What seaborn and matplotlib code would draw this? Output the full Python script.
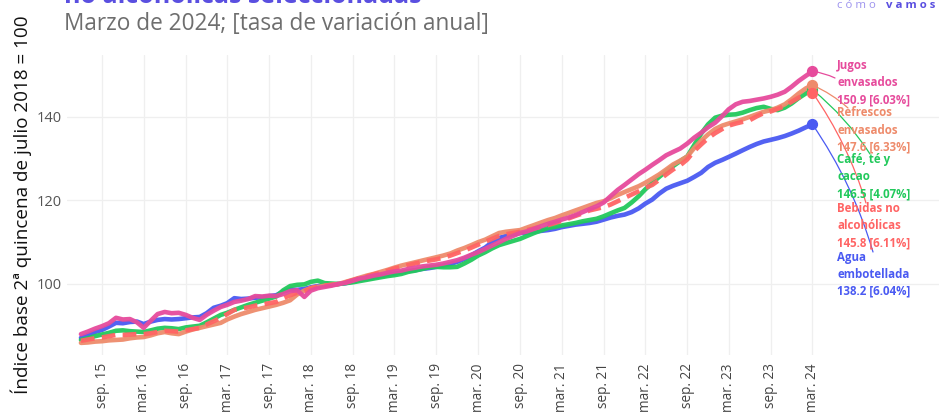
import numpy as np
import pandas as pd
import matplotlib
matplotlib.use("Agg")
import matplotlib.pyplot as plt
import matplotlib.dates as mdates
import seaborn as sns

# monthly index values, jun 2015 .. mar 2024 (base 2a quincena jul 2018 = 100)
dates = pd.date_range("2015-06-01", "2024-03-01", freq="MS")

jugos = [
    88.0, 88.6, 89.3, 89.9, 90.6, 91.9, 91.5, 91.6, 90.8, 89.5,
    91.2, 92.8, 93.3, 93.0, 93.1, 92.6, 91.9, 91.4, 92.6, 93.6,
    94.5, 95.0, 95.7, 96.0, 96.4, 97.1, 97.0, 97.2, 97.1, 97.6,
    98.3, 98.5, 96.9, 98.4, 99.0, 99.3, 99.6, 100.0, 100.3, 100.8,
    101.3, 101.6, 102.0, 102.3, 102.7, 103.0, 103.2, 103.6, 103.9, 104.2,
    104.4, 104.6, 104.9, 105.3, 105.7, 106.3, 107.0, 107.6, 108.4, 109.2,
    110.0, 110.8, 111.5, 112.2, 112.6, 113.2, 113.8, 114.4, 114.9, 115.4,
    115.9, 116.5, 117.2, 117.9, 118.6, 119.5, 121.0, 122.5, 123.7, 125.0,
    126.3, 127.3, 128.5, 129.6, 130.8, 131.6, 132.4, 133.6, 135.0, 136.2,
    137.5, 138.6, 140.2, 141.8, 143.0, 143.6, 143.8, 144.1, 144.4, 144.8,
    145.3, 146.0, 147.2, 148.6, 149.8, 150.9,
]
agua = [
    87.1, 87.8, 88.5, 89.0, 89.8, 90.7, 90.6, 90.9, 91.0, 90.4,
    91.0, 91.4, 91.6, 91.5, 91.6, 91.8, 92.0, 92.1, 93.0, 94.3,
    94.8, 95.4, 96.6, 96.4, 96.5, 96.7, 96.8, 97.1, 97.3, 98.2,
    98.7, 98.6, 98.8, 99.2, 99.5, 99.7, 99.8, 100.0, 100.2, 100.6,
    101.0, 101.3, 101.6, 101.9, 102.2, 102.5, 102.8, 103.1, 103.3, 103.6,
    103.8, 104.1, 104.4, 104.8, 105.3, 106.0, 106.9, 107.8, 108.7, 110.0,
    111.0, 111.5, 111.9, 112.2, 112.3, 112.5, 112.7, 112.9, 113.2, 113.6,
    113.9, 114.2, 114.4, 114.6, 114.9, 115.4, 115.9, 116.3, 116.6, 117.2,
    118.1, 119.2, 120.2, 121.6, 122.8, 123.5, 124.1, 124.7, 125.6, 126.6,
    128.0, 129.0, 129.7, 130.4, 131.2, 132.0, 132.8, 133.5, 134.1, 134.5,
    134.9, 135.4, 136.0, 136.7, 137.5, 138.2,
]
cafe = [
    86.6, 87.0, 87.5, 87.9, 88.3, 88.8, 88.9, 88.7, 88.6, 88.5,
    88.9, 89.3, 89.5, 89.4, 89.2, 89.6, 89.8, 90.0, 90.8, 91.7,
    92.6, 93.1, 93.8, 94.4, 95.0, 95.5, 96.0, 96.5, 97.0, 98.5,
    99.5, 99.8, 99.9, 100.5, 100.8, 100.2, 100.1, 100.0, 100.2, 100.4,
    100.7, 101.0, 101.3, 101.6, 101.9, 102.1, 102.4, 102.9, 103.2, 103.6,
    104.0, 104.1, 104.0, 104.0, 104.1, 104.9, 105.8, 106.8, 107.6, 108.5,
    109.3, 109.8, 110.3, 110.8, 111.5, 112.2, 112.8, 113.4, 113.7, 114.0,
    114.3, 114.6, 115.0, 115.3, 115.6, 116.2, 116.9, 117.6, 118.2, 119.5,
    121.0, 122.6, 124.2, 125.6, 127.0, 128.2, 129.4, 130.5, 133.2, 136.0,
    138.2, 139.8, 140.3, 140.5, 140.6, 141.0, 141.6, 142.1, 142.4, 141.9,
    141.6, 142.2, 143.2, 144.5, 145.6, 146.5,
]
refrescos = [
    85.9, 86.0, 86.2, 86.3, 86.5, 86.6, 86.7, 87.0, 87.2, 87.3,
    87.7, 88.2, 88.5, 88.2, 88.0, 88.6, 89.1, 89.5, 89.9, 90.3,
    90.7, 91.5, 92.2, 92.8, 93.3, 93.8, 94.2, 94.6, 95.0, 95.5,
    96.1, 97.5, 98.4, 99.0, 99.3, 99.6, 99.8, 100.0, 100.5, 101.0,
    101.5, 102.0, 102.4, 102.9, 103.4, 103.9, 104.4, 104.8, 105.2, 105.6,
    106.0, 106.4, 106.8, 107.3, 108.0, 108.6, 109.3, 110.0, 110.6, 111.4,
    112.2, 112.5, 112.7, 112.9, 113.5, 114.1, 114.7, 115.3, 115.8, 116.4,
    117.0, 117.6, 118.2, 118.8, 119.4, 119.8, 120.5, 121.3, 122.0, 122.7,
    123.4, 124.2, 125.2, 126.2, 127.4, 128.6, 129.5, 130.5, 132.5, 134.3,
    135.8, 137.1, 137.9, 138.4, 138.9, 139.4, 140.0, 140.6, 141.2, 141.6,
    142.2, 143.0, 144.2, 145.6, 146.8, 147.6,
]
bebidas = [
    86.4, 86.7, 87.0, 87.2, 87.5, 87.8, 87.8, 87.9, 88.0, 88.0,
    88.2, 88.5, 88.8, 88.7, 88.6, 88.9, 89.2, 89.5, 90.3, 91.1,
    91.9, 92.8, 93.8, 94.1, 94.4, 94.8, 95.1, 95.4, 95.7, 96.6,
    97.3, 97.9, 98.3, 99.0, 99.4, 99.6, 99.8, 100.0, 100.4, 100.9,
    101.4, 101.8, 102.3, 102.7, 103.2, 103.7, 104.1, 104.5, 104.9, 105.3,
    105.6, 105.9, 106.3, 106.8, 107.4, 108.0, 108.7, 109.4, 110.1, 110.8,
    111.5, 111.9, 112.2, 112.5, 112.9, 113.3, 113.7, 114.1, 114.6, 115.1,
    115.7, 116.3, 116.9, 117.6, 118.0, 118.4, 119.0, 119.8, 120.6, 121.4,
    122.2, 123.0, 123.7, 124.9, 126.2, 127.4, 128.4, 129.8, 131.8, 133.4,
    134.9, 136.1, 137.1, 137.9, 138.4, 138.8, 139.2, 140.1, 140.9, 141.3,
    141.9, 142.6, 143.6, 144.6, 145.3, 145.8,
]

series_names = ["Agua embotellada", "Café, té y cacao", "Refrescos envasados",
                "Bebidas no alcohólicas", "Jugos envasados"]
series_vals = [agua, cafe, refrescos, bebidas, jugos]
colors = ["#4a5af2", "#22c95c", "#ee8b6b", "#ff6464", "#e64b9c"]
annual_change = ["6.04%", "4.07%", "6.33%", "6.11%", "6.03%"]
label_lines = [["Agua", "embotellada"], ["Café, té y", "cacao"], ["Refrescos", "envasados"],
               ["Bebidas no", "alcohólicas"], ["Jugos", "envasados"]]

df = pd.DataFrame({"fecha": np.tile(dates, len(series_names)),
                   "serie": np.repeat(series_names, len(dates)),
                   "valor": np.concatenate(series_vals)})

sns.set_style("white")
plt.rcParams["font.family"] = ["Open Sans", "DejaVu Sans"]

W, H = 939, 417
fig = plt.figure(figsize=(W / 100, H / 100), dpi=100)
ax = fig.add_axes([67 / W, 1 - 355 / H, (W - 67) / W, 300 / H])

palette = dict(zip(series_names, colors))
for name in series_names:
    sub = df[df["serie"] == name]
    dashed = name == "Bebidas no alcohólicas"
    sns.lineplot(data=sub, x="fecha", y="valor", color=palette[name], lw=3.3,
                 linestyle=(0, (3, 1.6)) if dashed else "-", ax=ax,
                 alpha=0.95, legend=False)
    ax.scatter(sub["fecha"].iloc[-1], sub["valor"].iloc[-1], s=50,
               color=palette[name], zorder=5)

ax.set_xlim(pd.Timestamp("2015-04-01"), pd.Timestamp("2025-09-05"))
ax.set_ylim(83.0, 154.8)

ticks = [d for d in pd.date_range("2015-09-01", "2024-03-01", freq="MS") if d.month in (3, 9)]
tick_labels = [("mar. " if d.month == 3 else "sep. ") + d.strftime("%y") for d in ticks]
ax.set_xticks(ticks)
ax.set_xticklabels(tick_labels, rotation=90, fontsize=9.8, color="#444444")
ax.set_yticks([100, 120, 140])
ax.set_yticklabels(["100", "120", "140"], fontsize=10.5, color="#555555")
ax.tick_params(axis="x", length=0, pad=6)
ax.tick_params(axis="y", length=0, pad=4)
ax.grid(True, color="#efefef", lw=0.9)
ax.set_axisbelow(True)
for s in ax.spines.values():
    s.set_visible(False)
ax.set_xlabel("")
ax.set_ylabel("Índice base 2ª quincena de julio 2018 = 100", fontsize=13.6,
              color="#111111", labelpad=2)
ax.yaxis.set_label_coords(-0.040, 0.5)

# end labels with connectors
label_y0 = [257, 160, 113, 209, 66]
text_targets = [(873, 252), (870, 154), (848, 108), (866, 203), (835, 78)]
for i, name in enumerate(series_names):
    end_d = dates[-1]
    end_v = series_vals[i][-1]
    tx, ty = text_targets[i]
    ax.annotate("", xy=(mdates.date2num(end_d), end_v), xycoords="data",
                xytext=(tx, H - ty), textcoords="figure pixels",
                arrowprops=dict(arrowstyle="-", color=colors[i], lw=0.9,
                                shrinkA=0, shrinkB=0,
                                connectionstyle="arc3,rad=0.08"))
    lines = label_lines[i] + [f"{end_v:.1f} [{annual_change[i]}]"]
    for k, line in enumerate(lines):
        fig.text(837 / W, 1 - (label_y0[i] + 17 * k) / H, line, color=colors[i],
                 fontsize=8.3, fontweight="bold", va="center", ha="left")

# headings (title is cut off at top in the source)
fig.text(64 / W, 1 - 3 / H, "no alcohólicas seleccionadas", fontsize=18,
         fontweight="bold", color="#5a4fe0", va="baseline", ha="left")
fig.text(64 / W, 1 - 30 / H, "Marzo de 2024; [tasa de variación anual]", fontsize=16.3,
         color="#6e6e6e", va="baseline", ha="left")
fig.text(837 / W, 1 - 6 / H, "c ó m o", fontsize=8.2, color="#9d93ee",
         va="center", ha="left")
fig.text(935 / W, 1 - 6 / H, "v a m o s", fontsize=8.2, color="#5a4fe0",
         fontweight="bold", va="center", ha="right")

fig.savefig("out.png", dpi=100)
